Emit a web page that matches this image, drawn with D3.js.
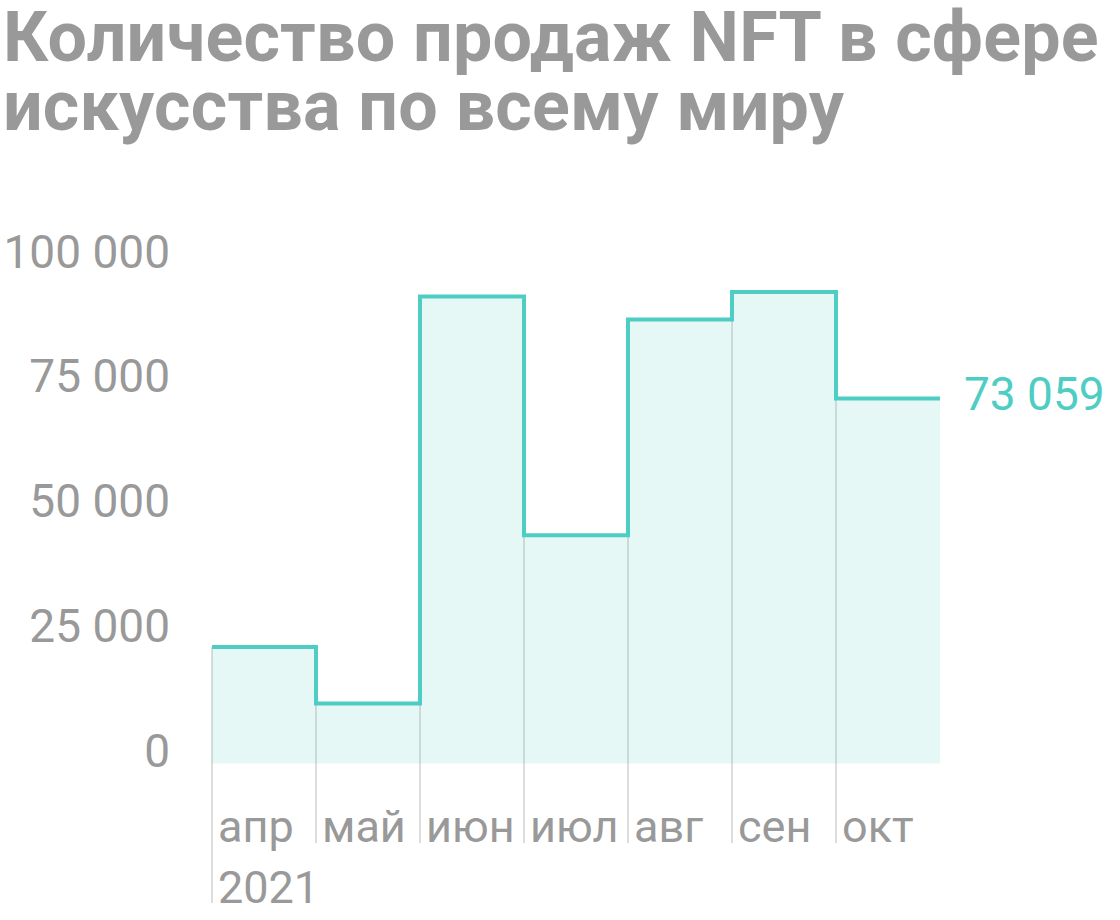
<!DOCTYPE html>
<html>
<head>
<meta charset="utf-8">
<script src="https://cdn.jsdelivr.net/npm/d3@7"></script>
<style>
  body { margin: 0; background: #fff; }
  svg { display: block; font-family: Roboto, "Noto Sans", sans-serif; }
</style>
</head>
<body>
<div id="chart"></div>
<script>
const titleLines = ["Количество продаж NFT в сфере", "искусства по всему миру"];
const months = ["апр", "май", "июн", "июл", "авг", "сен", "окт"];
const sales = [23300, 12000, 93500, 45700, 88900, 94400, 73059];
const yTicks = [0, 25000, 50000, 75000, 100000];
const yearLabel = "2021";

const width = 1120;
const height = 920;
const grey = "#999";
const teal = "#4ecdc4";

const ru = d3.formatLocale({decimal: ",", thousands: " ", grouping: [3], currency: ["", ""]});
const fmt = ru.format(",d");

const svg = d3.select("#chart").append("svg")
    .attr("width", width)
    .attr("height", height);

// title
svg.append("g")
  .selectAll("text")
  .data(titleLines)
  .join("text")
    .attr("x", 3)
    .attr("y", (d, i) => 61 + i * 69)
    .attr("fill", grey)
    .attr("font-size", 70)
    .attr("font-weight", 700)
    .attr("letter-spacing", 0.2)
    .text(d => d);

const x = d3.scaleBand().domain(months).range([212, 940]);
const y = d3.scaleLinear().domain([0, 100000]).range([763.5, 264]);

const pts = months.map((m, i) => ({x: x(m), v: sales[i]}));
pts.push({x: x(months[months.length - 1]) + x.bandwidth(), v: sales[sales.length - 1]});

// vertical grid lines, drawn under the area
svg.append("g")
  .selectAll("line")
  .data(months)
  .join("line")
    .attr("x1", d => x(d))
    .attr("x2", d => x(d))
    .attr("y1", (d, i) => y(sales[i]))
    .attr("y2", (d, i) => i === 0 ? 903 : 843)
    .attr("stroke", "#ddd")
    .attr("stroke-width", 2);

const area = d3.area()
    .x(d => d.x)
    .y0(y(0))
    .y1(d => y(d.v))
    .curve(d3.curveStepAfter);

const line = d3.line()
    .x(d => d.x)
    .y(d => y(d.v))
    .curve(d3.curveStepAfter);

svg.append("path")
    .datum(pts)
    .attr("d", area)
    .attr("fill", teal)
    .attr("fill-opacity", 0.15);

svg.append("path")
    .datum(pts)
    .attr("d", line)
    .attr("fill", "none")
    .attr("stroke", teal)
    .attr("stroke-width", 4);

// y axis
const yAxis = svg.append("g")
    .attr("transform", "translate(170,0)")
    .call(d3.axisLeft(y).tickValues(yTicks).tickSize(0).tickPadding(0).tickFormat(fmt));
yAxis.select(".domain").remove();
yAxis.selectAll("text")
    .attr("dy", 3)
    .attr("fill", grey)
    .attr("font-size", 46)
    .attr("font-family", "Roboto, sans-serif");

// x labels
svg.append("g")
  .selectAll("text")
  .data(months)
  .join("text")
    .attr("x", d => x(d) + 6)
    .attr("y", 842)
    .attr("fill", grey)
    .attr("font-size", 45)
    .text(d => d);

svg.append("text")
    .attr("x", x(months[0]) + 6)
    .attr("y", 903)
    .attr("fill", grey)
    .attr("font-size", 45)
    .text(yearLabel);

// last value label
svg.append("text")
    .attr("x", 964)
    .attr("y", y(sales[sales.length - 1]) + 11)
    .attr("fill", teal)
    .attr("font-size", 46)
    .text(fmt(sales[sales.length - 1]));
</script>
</body>
</html>
